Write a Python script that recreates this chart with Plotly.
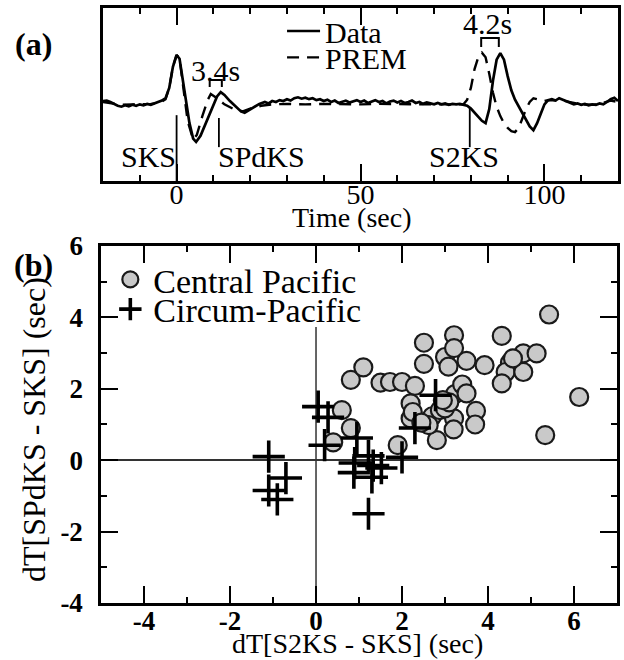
import plotly.graph_objects as go

# ---------------- Panel (a): waveforms ----------------
time_data = [-20, -19, -18, -17, -16, -15, -14, -13, -12, -11, -10, -9, -8, -7, -6, -5, -4, -3, -2, -1,
             0, 0.8, 1.5, 2.5, 3.5, 4.5, 5.3, 6.5, 8, 9.5, 11, 12, 13, 14.5, 16, 17.5, 18.5, 19.5, 21, 22.5,
             24, 25, 26, 27, 28, 29, 30, 31, 32, 33, 34, 35, 36, 37, 38, 39, 40, 41, 42, 43, 44, 45, 46, 47,
             48, 49, 50, 51, 52, 53, 54, 55, 56, 57, 58, 59, 60, 61, 62, 63, 64, 65, 66, 67, 68, 69, 70, 71,
             72, 73, 74, 75, 76, 77, 78, 79, 80, 81, 82, 83, 84, 85, 86, 87, 88, 89, 90, 91, 92, 93, 94, 95,
             96, 97, 98, 99, 100, 101, 102, 103, 104, 105, 106, 107, 108, 109, 110, 111, 112, 113, 114, 115,
             116, 117, 118, 119, 120]
amp_data = [0.02, 0.03, 0.00, -0.04, -0.08, -0.10, -0.07, -0.09, -0.06, -0.08, -0.05, -0.07, -0.04, -0.06,
            -0.03, 0.00, 0.03, 0.08, 0.30, 0.75,
            1.00, 0.92, 0.55, 0.05, -0.45, -0.78, -0.85, -0.72, -0.45, -0.15, 0.12, 0.21, 0.15, 0.02, -0.10,
            -0.20, -0.23, -0.18, -0.10, -0.04,
            0.00, -0.03, 0.02, 0.00, 0.04, 0.02, 0.06, 0.03, 0.08, 0.10, 0.07, 0.09, 0.06, 0.08, 0.04, 0.06,
            0.02, 0.05, 0.00, 0.03, -0.02, 0.01, 0.03, -0.01,
            0.02, 0.04, 0.00, 0.03, -0.02, 0.01, 0.04, 0.00, 0.02, -0.03, 0.01, 0.03, -0.01, 0.02, -0.02, 0.00,
            0.03, -0.02, 0.00, -0.04, -0.01, -0.03, -0.05, -0.02,
            -0.05, -0.03, -0.06, -0.04, -0.05, -0.04, -0.06, -0.08, -0.14, -0.22, -0.32, -0.40, -0.45, -0.15,
            0.45, 0.90, 1.04, 0.90, 0.55, 0.25, 0.05, -0.10, -0.25, -0.40,
            -0.52, -0.60, -0.45, -0.25, -0.05, 0.04, 0.06, 0.03, 0.08, 0.05, 0.02, -0.02, -0.05, -0.03, -0.06,
            -0.04, -0.07, -0.05, -0.06, -0.03,
            -0.05, 0.00, 0.06, 0.09, 0.02]

time_prem = [-20, -17, -15, -12, -10, -7, -5, -4, -3, -2, -1, 0, 0.8, 1.5, 3, 4.5, 5.5, 7, 8.5, 9.3, 11,
             13, 15.5, 18, 20, 23, 26, 30, 35, 40, 45, 50, 55, 60, 65, 70, 75, 78, 79, 80, 81, 82, 83,
             84, 85, 86, 87, 88, 89, 90, 91, 92, 93, 94, 95, 96, 97, 98, 99, 100, 101, 103, 105, 108,
             110, 113, 115, 118, 120]
amp_prem = [0.00, -0.03, -0.06, -0.05, -0.05, -0.04, -0.02, 0.01, 0.06, 0.30, 0.75, 1.00, 0.93, 0.50,
            -0.40, -0.80, -0.70, -0.30, 0.05, 0.17, 0.08,
            -0.05, -0.15, -0.20, -0.14, -0.08, -0.05, -0.04, -0.05, -0.04, -0.05, -0.05, -0.04, -0.05,
            -0.05, -0.05, -0.05, -0.05, 0.05, 0.30, 0.70, 0.95, 1.05,
            0.95, 0.60, 0.20, -0.10, -0.30, -0.45, -0.55, -0.62, -0.64, -0.55, -0.35, -0.15, 0.00, 0.08,
            0.06, 0.04, 0.02, 0.04, 0.04, 0.03, -0.02,
            -0.05, -0.06, -0.04, 0.03, 0.00]

time_ticks = [0, 50, 100]

# ---------------- Panel (b): scatter ----------------
central_x = [0.40, 0.60, 0.81, 0.81, 1.10, 1.50, 1.72, 2.00, 2.30, 1.90, 2.20, 2.20, 2.25, 2.51, 2.51,
             2.70, 2.88, 2.81, 3.00, 3.08, 3.21, 3.21, 3.21, 3.20, 3.23, 3.40, 3.50, 3.50, 3.72, 3.70,
             3.00, 3.92, 4.32, 4.51, 4.82, 5.13, 4.41, 4.82, 4.32, 5.42, 6.12, 5.33, 2.62, 3.10, 4.58,
             2.45, 2.95]
central_y = [0.50, 1.40, 0.90, 2.25, 2.60, 2.17, 2.19, 2.19, 2.08, 0.42, 1.59, 1.17, 1.35, 3.29, 2.70,
             1.23, 1.40, 0.56, 2.89, 2.62, 3.50, 3.14, 1.17, 0.86, 1.85, 2.12, 2.78, 1.87, 1.38, 1.00,
             1.45, 2.66, 3.48, 2.73, 2.99, 2.99, 2.47, 2.47, 2.15, 4.08, 1.77, 0.70, 0.98, 1.62, 2.85,
             1.05, 1.68]

circum_x = [-1.10, -0.70, -1.10, -0.90, 0.05, 0.28, 0.20, 0.95, 2.00, 0.90, 0.88, 1.22, 1.33, 1.52,
            1.30, 1.22, 2.30, 2.78]
circum_y = [0.10, -0.50, -0.85, -1.10, 1.50, 1.20, 0.42, 0.62, 0.08, -0.08, -0.35, 0.12, -0.15, -0.22,
            -0.48, -1.50, 0.90, 1.82]

x2_ticks = [-4, -2, 0, 2, 4, 6]
x2_labels = ["-4", "-2", "0", "2", "4", "6"]
y2_ticks = [-4, -2, 0, 2, 4, 6]
y2_labels = ["-4", "-2", "0", "2", "4", "6"]

SERIF = "Liberation Serif"

fig = go.Figure()

fig.add_trace(go.Scatter(x=time_data, y=amp_data, mode="lines", name="Data",
                         line=dict(color="black", width=2.7), xaxis="x", yaxis="y",
                         legend="legend"))
fig.add_trace(go.Scatter(x=time_prem, y=amp_prem, mode="lines", name="PREM",
                         line=dict(color="black", width=2.4, dash="12px,8px"), xaxis="x", yaxis="y",
                         legend="legend2"))

fig.add_trace(go.Scatter(x=central_x, y=central_y, mode="markers", name="Central Pacific",
                         marker=dict(symbol="circle", size=18, color="#c9c9c9",
                                     line=dict(color="#1a1a1a", width=2.2)),
                         xaxis="x2", yaxis="y2", legend="legend3"))
fig.add_trace(go.Scatter(x=circum_x, y=circum_y, mode="markers", name="Circum-Pacific",
                         marker=dict(symbol="cross-thin", size=23, color="black",
                                     line=dict(color="black", width=3.6)),
                         xaxis="x2", yaxis="y2", legend="legend4"))

leg_a = dict(bgcolor="rgba(0,0,0,0)", borderwidth=0, font=dict(family=SERIF, size=30, color="black"),
             xanchor="left", yanchor="middle", itemwidth=33)
leg_b = dict(bgcolor="rgba(0,0,0,0)", borderwidth=0, font=dict(family=SERIF, size=34, color="black"),
             xanchor="left", yanchor="middle", itemwidth=36)

fig.update_layout(
    width=624, height=660, margin=dict(l=0, r=0, t=0, b=0, autoexpand=False),
    paper_bgcolor="white", plot_bgcolor="white", showlegend=True,
    legend=dict(x=0.452, y=0.953, **leg_a),
    legend2=dict(x=0.452, y=0.913, **leg_a),
    legend3=dict(x=0.172, y=0.576, **leg_b),
    legend4=dict(x=0.172, y=0.531, **leg_b),
    xaxis=dict(domain=[0.1651, 0.9904], anchor="y", range=[-20, 120], tickvals=time_ticks,
               ticks="inside", ticklen=17, tickwidth=2, tickcolor="black",
               minor=dict(dtick=10, tick0=0, ticks="inside", ticklen=6, tickwidth=2, tickcolor="black"),
               showline=True, linewidth=3, linecolor="black", mirror="allticks",
               showgrid=False, zeroline=False, automargin=False,
               tickfont=dict(family=SERIF, size=28, color="black"), ticklabelstandoff=-14),
    yaxis=dict(domain=[0.7258, 0.9879], anchor="x", range=[-1.68, 2.0], showticklabels=False,
               ticks="", showline=True, linewidth=3, linecolor="black", mirror=True,
               showgrid=False, zeroline=False, automargin=False),
    xaxis2=dict(domain=[0.1619, 0.9888], anchor="y2", range=[-5, 7],
                tickvals=x2_ticks, ticktext=x2_labels,
                ticks="inside", ticklen=17, tickwidth=2, tickcolor="black",
                minor=dict(dtick=1, tick0=0, ticks="inside", ticklen=6, tickwidth=2, tickcolor="black"),
                showline=True, linewidth=2.5, linecolor="black", mirror="allticks",
                showgrid=False, zeroline=False, automargin=False,
                tickfont=dict(family=SERIF, size=27, color="black", weight="bold"),
                ticklabelstandoff=-8),
    yaxis2=dict(domain=[0.0864, 0.6273], anchor="x2", range=[-4, 6],
                tickvals=y2_ticks, ticktext=y2_labels,
                ticks="inside", ticklen=17, tickwidth=2, tickcolor="black",
                minor=dict(dtick=1, tick0=0, ticks="inside", ticklen=6, tickwidth=2, tickcolor="black"),
                showline=True, linewidth=2.5, linecolor="black", mirror="allticks",
                showgrid=False, zeroline=True, zerolinecolor="#333333", zerolinewidth=1.5,
                automargin=False,
                tickfont=dict(family=SERIF, size=27, color="black", weight="bold"),
                ticklabelstandoff=10),
)

# vertical zero line in panel (b) (stops below the legend)
fig.add_shape(type="line", xref="x2", yref="y2", x0=0, x1=0, y0=-4, y1=3.73,
              line=dict(color="#333333", width=1.5), layer="below")

# phase marker lines in panel (a)
line_style = dict(color="black", width=1.8)
fig.add_shape(type="line", xref="x", yref="y", x0=0, x1=0, y0=-0.28, y1=-1.68, line=line_style)
fig.add_shape(type="line", xref="x", yref="y", x0=11.5, x1=11.5, y0=-0.34, y1=-0.96, line=line_style)
fig.add_shape(type="line", xref="x", yref="y", x0=79.7, x1=79.7, y0=-0.13, y1=-0.96, line=line_style)

# brackets
fig.add_shape(type="path", xref="x", yref="y", path="M 9.0,0.32 L 9.0,0.47 L 12.3,0.47 L 12.3,0.32",
              line=dict(color="black", width=2))
fig.add_shape(type="path", xref="x", yref="y", path="M 82.8,1.17 L 82.8,1.36 L 87.6,1.36 L 87.6,1.17",
              line=dict(color="black", width=2))

tf = dict(family=SERIF, size=30, color="black")
C = dict(xanchor="center", yanchor="middle", showarrow=False)
ann = [
    dict(x=10.6, y=0.68, xref="x", yref="y", text="3.4s", font=tf, **C),
    dict(x=84.5, y=1.66, xref="x", yref="y", text="4.2s", font=tf, **C),
    dict(x=0.4, y=-1.17, xref="x", yref="y", text="SKS", font=tf, xanchor="right", yanchor="middle",
         showarrow=False),
    dict(x=10.8, y=-1.17, xref="x", yref="y", text="SPdKS", font=tf, xanchor="left", yanchor="middle",
         showarrow=False),
    dict(x=78.2, y=-1.17, xref="x", yref="y", text="S2KS", font=tf, **C),
    dict(x=352 / 624, y=1 - 217 / 660, xref="paper", yref="paper", text="Time (sec)",
         font=dict(family=SERIF, size=28, color="black"), **C),
    dict(x=33 / 624, y=1 - 44 / 660, xref="paper", yref="paper", text="(a)",
         font=dict(family=SERIF, size=32, color="black", weight="bold"), **C),
    dict(x=33 / 624, y=1 - 265 / 660, xref="paper", yref="paper", text="(b)",
         font=dict(family=SERIF, size=32, color="black", weight="bold"), **C),
    dict(x=357 / 624, y=1 - 643 / 660, xref="paper", yref="paper", text="dT[S2KS - SKS] (sec)",
         font=dict(family=SERIF, size=28, color="black"), **C),
    dict(x=34 / 624, y=1 - 430 / 660, xref="paper", yref="paper", text="dT[SPdKS - SKS] (sec)",
         textangle=-90, font=dict(family=SERIF, size=32, color="black"), **C),
]
fig.update_layout(annotations=ann)

fig.write_html("out.html")
